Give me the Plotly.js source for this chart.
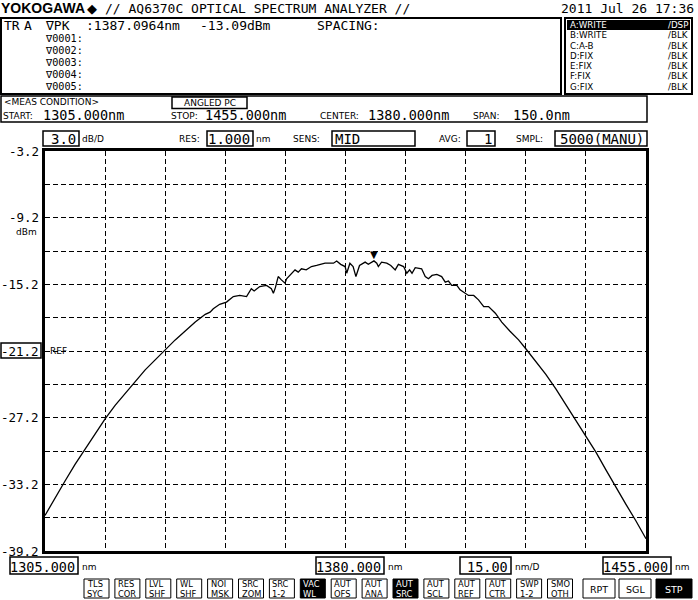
<!DOCTYPE html>
<html>
<head>
<meta charset="utf-8">
<script src="https://cdn.plot.ly/plotly-3.0.1.min.js"></script>
<style>
html,body{margin:0;padding:0;background:#fff;}
#chart{width:698px;height:600px;}
</style>
</head>
<body>
<div id="chart"></div>
<script>
// ---------------- DATA ----------------
const wavelengths = [1305.0,1307.5,1310.0,1312.5,1315.0,1317.5,1320.0,1322.5,1325.0,1327.5,1330.0,1332.5,1335.0,1337.5,1340.0,1342.5,1345.0,1346.2,1347.0,1348.6,1350.3,1351.2,1352.0,1353.6,1355.3,1356.5,1357.2,1358.6,1360.3,1361.5,1362.0,1362.5,1363.2,1364.0,1364.9,1365.3,1366.1,1367.4,1368.2,1369.0,1370.2,1371.5,1372.8,1374.9,1377.0,1377.8,1378.8,1379.9,1380.3,1381.1,1381.9,1382.6,1383.5,1384.9,1385.7,1386.5,1387.1,1387.8,1388.2,1389.0,1390.3,1391.3,1392.4,1393.2,1394.5,1395.3,1396.0,1396.6,1397.4,1399.0,1399.9,1400.7,1401.6,1402.8,1404.0,1404.9,1405.7,1406.5,1407.8,1408.6,1409.9,1410.7,1412.0,1413.2,1414.5,1415.7,1417.4,1419.0,1421.0,1423.2,1425.0,1427.5,1430.0,1432.5,1435.0,1437.5,1440.0,1442.5,1445.0,1447.5,1450.0,1452.5,1455.0];
const levels = [-36.0,-34.4,-32.9,-31.4,-30.0,-28.6,-27.3,-26.1,-25.0,-23.9,-22.9,-22.0,-21.1,-20.2,-19.4,-18.6,-17.9,-17.7,-17.4,-17.0,-16.8,-16.5,-16.3,-16.2,-16.3,-15.6,-15.8,-15.4,-15.3,-15.6,-16.0,-15.5,-14.5,-14.8,-15.1,-14.7,-14.4,-13.9,-14.1,-13.8,-13.9,-13.6,-13.5,-13.3,-13.3,-13.1,-13.4,-13.6,-14.2,-13.3,-13.6,-14.5,-13.5,-13.2,-13.4,-13.2,-13.09,-13.3,-13.6,-13.2,-13.3,-13.5,-13.9,-13.4,-13.6,-14.2,-13.9,-14.2,-13.7,-13.8,-14.5,-14.7,-14.4,-14.3,-14.5,-15.0,-14.9,-15.3,-15.3,-15.7,-16.0,-16.2,-16.2,-16.6,-17.2,-17.2,-17.8,-18.6,-19.4,-20.2,-21.0,-22.1,-23.3,-24.6,-26.0,-27.4,-28.8,-30.3,-31.9,-33.5,-35.0,-36.5,-38.1];
const peakWavelength = 1387.0964;
const peakLevel = -13.09;
const yTickValues = [-3.2,-9.2,-15.2,-21.2,-27.2,-33.2,-39.2];
const yTickLabels = ["-3.2","-9.2","-15.2","-21.2","-27.2","-33.2","-39.2"];
const refLevel = -21.2;
const xStart = 1305, xStop = 1455, xCenter = 1380, xPerDiv = 15;
const xLabelTexts = ["1305.000","1380.000","15.00","1455.000"];
const xLabelUnits = ["nm","nm","nm/D","nm"];
const traceRows = [["A:WRITE","/DSP"],["B:WRITE","/BLK"],["C:A-B","/BLK"],["D:FIX","/BLK"],["E:FIX","/BLK"],["F:FIX","/BLK"],["G:FIX","/BLK"]];
const markerRows = ["∇0001:","∇0002:","∇0003:","∇0004:","∇0005:"];
const softkeyTop = ["TLS","RES","LVL","WL","NOI","SRC","SRC","VAC","AUT","AUT","AUT","AUT","AUT","AUT","SWP","SMO"];
const softkeyBottom = ["SYC","COR","SHF","SHF","MSK","ZOM","1-2","WL","OFS","ANA","SRC","SCL","REF","CTR","1-2","OTH"];
const softkeyActive = [false,false,false,false,false,false,false,true,false,false,true,false,false,false,false,false];
const runKeys = ["RPT","SGL","STP"];
const runActive = [false,false,true];

// ---------------- LAYOUT HELPERS ----------------
const L=45, T=151, W=601, H=400;
const X = p => (p-L)/W;
const Y = p => (T+H-p)/H;
const MONO = "DejaVu Sans Mono, monospace";
const SANS = "DejaVu Sans, sans-serif";
const shapes = [];
const ann = [];
function rect(x0,y0,x1,y1,o){
  o=o||{};
  shapes.push({type:'rect',xref:'paper',yref:'paper',x0:X(x0),x1:X(x1),y0:Y(y1),y1:Y(y0),
    line:{color:'black',width:o.w===undefined?1.5:o.w},fillcolor:o.fill||'rgba(0,0,0,0)',layer:'above'});
}
function txt(s,x,y,o){
  o=o||{};
  ann.push({text:s,xref:'paper',yref:'paper',x:X(x),y:Y(y),xanchor:o.a||'left',yanchor:'middle',
    showarrow:false,borderpad:0,
    font:{family:o.f||MONO,size:o.s||13,color:o.c||'black',weight:o.wt||'normal'}});
}

// ---------- top line ----------
txt("YOKOGAWA",0,8,{f:"Liberation Sans, Arial, sans-serif",s:14,wt:'bold'});
txt("◆",86,8,{f:SANS,s:13});
txt("// AQ6370C OPTICAL SPECTRUM ANALYZER //",104,8,{s:13});
txt("2011 Jul 26 17:36",695,8,{s:13,a:'right'});

// ---------- marker box ----------
rect(1,18,561,94,{w:2});
txt("TR",3,25,{s:13});
txt("A",23,25,{s:13});
txt("∇PK",44,25,{s:13});
txt(":"+peakWavelength.toFixed(4)+"nm",85,25,{s:13});
txt(peakLevel.toFixed(2)+"dBm",199,25,{s:13});
txt("SPACING:",316,25,{s:13});
markerRows.forEach((m,i)=>txt(m,44,38.8+12*i,{s:10.2}));

// ---------- trace box ----------
rect(565,18,692,94,{w:2});
traceRows.forEach((r,i)=>{
  const yc = 25+10.3*i;
  if(i===0){ rect(567,20,690,30,{w:0,fill:'black'}); }
  const c = i===0?'white':'black';
  txt(r[0],569,yc,{f:SANS,s:8.7,c:c});
  txt(r[1],689,yc,{f:SANS,s:8.7,c:c,a:'right'});
});

// ---------- measurement condition ----------
rect(1,96,647,122,{w:1.5});
txt("<MEAS CONDITION>",3,102.5,{f:SANS,s:9});
rect(172,97,247,108.5,{w:1.5});
txt("ANGLED PC",209.5,102.8,{f:SANS,s:9,a:'center'});
txt("START:",2,116,{f:SANS,s:9});
txt(xStart.toFixed(3)+"nm",42,115.5,{s:13.5});
txt("STOP:",170,116,{f:SANS,s:9});
txt(xStop.toFixed(3)+"nm",204,115.5,{s:13.5});
txt("CENTER:",319,116,{f:SANS,s:9});
txt(xCenter.toFixed(3)+"nm",367,115.5,{s:13.5});
txt("SPAN:",472,116,{f:SANS,s:9});
txt((xStop-xStart).toFixed(1)+"nm",512,115.5,{s:13.5});

// ---------- settings row ----------
rect(43,131,79,146,{w:1.5}); txt("3.0",77,139,{s:14,a:'right'}); txt("dB/D",81,139.5,{f:SANS,s:9});
txt("RES:",178,139.5,{f:SANS,s:9});
rect(207,131,253,146,{w:1.5}); txt("1.000",251,139,{s:14,a:'right'}); txt("nm",255,139.5,{f:SANS,s:9});
txt("SENS:",292,139.5,{f:SANS,s:9});
rect(332,131,415,146,{w:1.5}); txt("MID",334,139,{s:14});
txt("AVG:",438,139.5,{f:SANS,s:9});
rect(467,131,495,146,{w:1.5}); txt("1",493,139,{s:14,a:'right'});
txt("SMPL:",515,139.5,{f:SANS,s:9});
rect(555,131,647,146,{w:1.5}); txt("5000(MANU)",645,139,{s:14,a:'right'});

// ---------- y labels (placed on the y scale) ----------
yTickValues.forEach((v,i)=>{
  ann.push({text:yTickLabels[i],xref:'paper',yref:'y',x:X(40),y:v,xanchor:'right',yanchor:'middle',
    showarrow:false,borderpad:0,font:{family:MONO,size:12.5,color:'black'}});
});
shapes.push({type:'rect',xref:'paper',yref:'paper',x0:X(1),x1:X(41),y0:Y(358),y1:Y(343),line:{color:'black',width:1.5},layer:'above'});
ann.push({text:"REF",xref:'paper',yref:'y',x:X(48.5),y:refLevel,xanchor:'left',yanchor:'middle',showarrow:false,borderpad:0,font:{family:SANS,size:9,color:'black'}});
ann.push({text:"dBm",xref:'paper',yref:'y',x:X(38),y:-9.2,yshift:-14,xanchor:'right',yanchor:'middle',showarrow:false,borderpad:0,font:{family:SANS,size:9,color:'black'}});

// ---------- x labels ----------
const xBoxes=[[10,78],[316,384],[460,511],[603,671]];
xLabelTexts.forEach((t,i)=>{
  const b=xBoxes[i];
  rect(b[0],557,b[1],574,{w:1.5});
  txt(t,b[1]-2,566.5,{s:13.5,a:'right'});
  txt(xLabelUnits[i],b[1]+3,567,{f:SANS,s:9});
});

// ---------- soft keys ----------
softkeyTop.forEach((t,i)=>{
  const x0=84+i*30.9, x1=x0+25;
  const act=softkeyActive[i];
  rect(x0,579,x1,598,{w:1,fill:act?'black':'rgba(0,0,0,0)'});
  const c=act?'white':'black';
  txt(t,x0+2,583.8,{f:SANS,s:8.3,c:c});
  txt(softkeyBottom[i],x0+2,593.6,{f:SANS,s:8.3,c:c});
});
const runX=[[583,615],[619,651],[656,692]];
runKeys.forEach((k,i)=>{
  const b=runX[i];
  rect(b[0],579,b[1],598,{w:1,fill:runActive[i]?'black':'rgba(0,0,0,0)'});
  txt(k,(b[0]+b[1])/2,589,{f:SANS,s:9.5,a:'center',c:runActive[i]?'white':'black'});
});

// ---------- peak marker ----------
ann.push({text:"▼",xref:'x',yref:'y',x:peakWavelength,y:peakLevel,xanchor:'center',yanchor:'bottom',yshift:0,
  showarrow:false,borderpad:0,font:{family:SANS,size:10,color:'black'}});

const trace = {x:wavelengths,y:levels,type:'scatter',mode:'lines',
  line:{color:'black',width:1.3,shape:'linear'},hoverinfo:'skip'};

const layout = {
  width:698,height:600,
  margin:{l:L,r:698-L-W,t:T,b:600-T-H,pad:0},
  paper_bgcolor:'white',plot_bgcolor:'white',
  showlegend:false,
  xaxis:{range:[xStart,xStop],dtick:xPerDiv,tick0:xStart,showticklabels:false,ticks:'',
    showgrid:true,gridcolor:'black',gridwidth:1,griddash:'5px,3px',zeroline:false,
    showline:true,mirror:true,linecolor:'black',linewidth:3},
  yaxis:{range:[-39.2,-3.2],dtick:3,tick0:-3.2,showticklabels:false,ticks:'',
    showgrid:true,gridcolor:'black',gridwidth:1,griddash:'5px,3px',zeroline:false,
    showline:true,mirror:true,linecolor:'black',linewidth:3},
  shapes:shapes,annotations:ann
};
Plotly.newPlot('chart',[trace],layout,{staticPlot:true,displayModeBar:false});
</script>
</body>
</html>
